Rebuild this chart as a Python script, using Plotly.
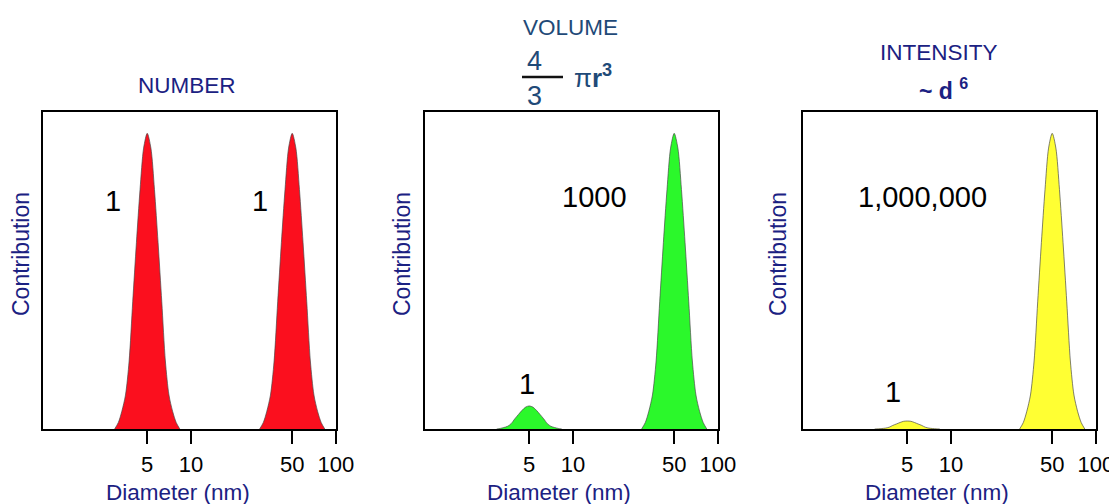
import plotly.graph_objects as go

# page is offset by the browser's default 8px body margin
OFF = 8
W, H = 1117 - OFF, 504 - OFF

# ---- data ----
# sample diameters (nm) across the two size populations
diam_small = [2.98, 3.16, 3.34, 3.54, 3.75, 3.97, 4.21, 4.46, 4.72, 5.0,
              5.30, 5.61, 5.94, 6.30, 6.67, 7.06, 7.48, 7.92, 8.39]
diam_large = [29.8, 31.6, 33.4, 35.4, 37.5, 39.7, 42.1, 44.6, 47.2, 50.0,
              53.0, 56.1, 59.4, 63.0, 66.7, 70.6, 74.8, 79.2, 83.9]

# relative contribution (peak height of the tallest peak = 1)
number_small = [0, 0.022, 0.06, 0.115, 0.23, 0.43, 0.63, 0.81, 0.95, 1.0,
                0.95, 0.81, 0.63, 0.43, 0.23, 0.115, 0.06, 0.022, 0]
number_large = [0, 0.022, 0.06, 0.115, 0.23, 0.43, 0.63, 0.81, 0.95, 1.0,
                0.95, 0.81, 0.63, 0.43, 0.23, 0.115, 0.06, 0.022, 0]
volume_small = [0, 0.002, 0.005, 0.009, 0.018, 0.034, 0.049, 0.063, 0.074, 0.078,
                0.074, 0.063, 0.049, 0.034, 0.018, 0.009, 0.005, 0.002, 0]
volume_large = [0, 0.022, 0.06, 0.115, 0.23, 0.43, 0.63, 0.81, 0.95, 1.0,
                0.95, 0.81, 0.63, 0.43, 0.23, 0.115, 0.06, 0.022, 0]
intensity_small = [0, 0.0006, 0.0016, 0.003, 0.006, 0.012, 0.017, 0.022, 0.026, 0.027,
                   0.026, 0.022, 0.017, 0.012, 0.006, 0.003, 0.0016, 0.0006, 0]
intensity_large = [0, 0.022, 0.06, 0.115, 0.23, 0.43, 0.63, 0.81, 0.95, 1.0,
                   0.95, 0.81, 0.63, 0.43, 0.23, 0.115, 0.06, 0.022, 0]

tick_vals = [5, 10, 50, 100]
tick_text = ["5", "10", "50", "100"]

panel_titles = ["NUMBER", "VOLUME", "INTENSITY"]
small_labels = ["1", "1", "1"]
large_labels = ["1", "1000", "1,000,000"]

# ---- style ----
FONT = "Liberation Sans, Arial, sans-serif"
NAVY = "#1b2182"
TEAL_NAVY = "#1f4a78"
fills = ["#fb0f1e", "#2bf82b", "#ffff33"]
EDGE = "rgba(70,70,70,0.85)"


def px(x):
    return (x - OFF) / W


def py(y):
    return 1 - (y - OFF) / H


x_domains = [(43, 336), (425, 718), (803, 1096)]
y_dom = [py(429), py(112)]

series = [(number_small, number_large), (volume_small, volume_large),
          (intensity_small, intensity_large)]

fig = go.Figure()
for i, (small, large) in enumerate(series):
    xa = "x" if i == 0 else f"x{i+1}"
    ya = "y" if i == 0 else f"y{i+1}"
    for xs, ys in ((diam_small, small), (diam_large, large)):
        fig.add_trace(go.Scatter(
            x=xs, y=ys, xaxis=xa, yaxis=ya, mode="lines",
            fill="tozeroy", fillcolor=fills[i],
            line=dict(color=EDGE, width=0.8, shape="spline", smoothing=0.8),
            hoverinfo="skip", showlegend=False))

layout = dict(
    width=W, height=H,
    margin=dict(l=0, r=0, t=0, b=0),
    paper_bgcolor="white", plot_bgcolor="white",
    font=dict(family=FONT, size=22, color="black"),
    showlegend=False,
)
for i, (x0, x1) in enumerate(x_domains):
    sfx = "" if i == 0 else str(i + 1)
    layout["xaxis" + sfx] = dict(
        type="log", domain=[px(x0), px(x1)], range=[-0.02, 2.001],
        anchor="y" + sfx, showgrid=False, zeroline=False,
        showline=True, linecolor="black", linewidth=2, mirror=True,
        ticks="outside", ticklen=13, tickwidth=2, tickcolor="black",
        tickvals=tick_vals, ticktext=tick_text,
        tickfont=dict(family=FONT, size=22, color="black"),
        ticklabelstandoff=2, automargin=False, fixedrange=True,
    )
    layout["yaxis" + sfx] = dict(
        domain=y_dom, range=[0, 1.072], anchor="x" + sfx,
        showgrid=False, zeroline=False, showticklabels=False, ticks="",
        showline=True, linecolor="black", linewidth=2, mirror=True,
        automargin=False, fixedrange=True,
    )
fig.update_layout(**layout)

ann = []


def add_text(text, x, y, size=22, color="black", angle=0):
    ann.append(dict(text=text, x=px(x), y=py(y), xref="paper", yref="paper",
                    xanchor="center", yanchor="middle", showarrow=False,
                    textangle=angle,
                    font=dict(family=FONT, size=size, color=color)))


# panel titles
add_text(panel_titles[0], 187, 86, 22.5, NAVY)
add_text(panel_titles[1], 570, 27, 22.5, TEAL_NAVY)
add_text(panel_titles[2], 939, 52, 22.5, NAVY)
# volume formula 4/3 pi r^3
add_text("4", 534, 61, 27, TEAL_NAVY)
add_text("3", 534, 96, 27, TEAL_NAVY)
add_text("π<b>r<sup>3</sup></b>", 593, 76, 26, TEAL_NAVY)
# intensity ~ d^6
add_text("<b>~ d <sup>6</sup></b>", 943, 89, 23, NAVY)

# axis titles
for xc in (21, 402, 778):
    add_text("Contribution", xc, 254, 23, NAVY, angle=-90)
for xc in (178, 559, 937):
    add_text("Diameter (nm)", xc, 492, 22.5, NAVY)

# population labels
add_text(large_labels[0], 113, 201, 29)
add_text(large_labels[0], 260, 201, 29)
add_text(large_labels[1], 594, 197, 29)
add_text(small_labels[1], 527, 384, 29)
add_text(large_labels[2], 922, 197, 29)
add_text(small_labels[2], 893, 392, 29)

fig.update_layout(annotations=ann)

# fraction bar of 4/3
fig.add_shape(type="line", xref="paper", yref="paper",
              x0=px(522), x1=px(563), y0=py(77), y1=py(77),
              line=dict(color="#111111", width=2.5))

fig.write_html("out.html")
